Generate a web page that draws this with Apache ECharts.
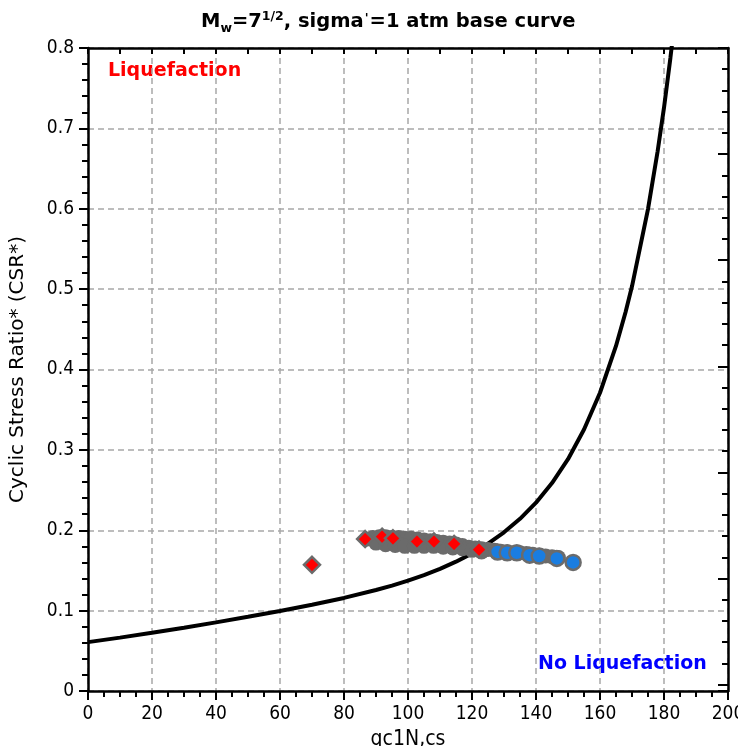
<!DOCTYPE html>
<html>
<head>
<meta charset="utf-8">
<script src="https://cdn.jsdelivr.net/npm/echarts@6/dist/echarts.min.js"></script>
<style>
html,body{margin:0;padding:0;background:#fff;overflow:hidden;width:100%;height:100%;}
#chart{position:fixed;left:0;top:0;width:738px;height:746px;}
</style>
</head>
<body>
<div id="chart"></div>
<script>
// Base curve (qc1N,cs vs CRR)
var curveX = [0, 10, 20, 30, 40, 50, 60, 70, 80, 90, 95, 100, 105, 110, 115, 120, 125, 130, 135, 140, 145, 150, 155, 160, 165, 168, 170, 175, 178, 180, 182, 183];
var curveY = [0.0608, 0.0664, 0.0724, 0.0788, 0.0854, 0.0923, 0.0995, 0.1073, 0.1158, 0.1256, 0.1311, 0.1373, 0.1442, 0.1520, 0.1609, 0.1712, 0.1833, 0.1974, 0.2142, 0.2343, 0.2587, 0.2884, 0.3253, 0.3711, 0.4293, 0.4715, 0.5035, 0.5996, 0.6712, 0.7258, 0.7877, 0.8214];

// Dense gray band of overlapping data points
var bandX = [87, 89, 91, 93, 95, 97, 99, 101, 103, 105, 107, 109, 111, 113, 115, 117, 119, 121, 123, 125, 127, 129, 131, 133, 135, 137, 139, 141, 143, 145, 147,
             90, 93, 96, 99, 102, 105, 108, 111, 114, 117, 120, 123];
var bandY = [0.189, 0.191, 0.192, 0.192, 0.191, 0.191, 0.190, 0.190, 0.189, 0.188, 0.187, 0.186, 0.185, 0.184, 0.183, 0.181, 0.179, 0.178, 0.177, 0.176, 0.175, 0.174, 0.173, 0.172, 0.172, 0.171, 0.170, 0.169, 0.168, 0.167, 0.166,
             0.184, 0.182, 0.181, 0.180, 0.180, 0.180, 0.180, 0.179, 0.178, 0.177, 0.175, 0.173];

// Liquefied points (red diamonds)
var liqX = [86.6, 91.9, 95.3, 102.8, 108.1, 114.4, 122.2, 70];
var liqY = [0.189, 0.192, 0.190, 0.186, 0.186, 0.183, 0.176, 0.157];

// Non-liquefied points (blue circles)
var nonX = [128, 131, 134, 138, 141, 146.5, 151.6];
var nonY = [0.173, 0.172, 0.172, 0.169, 0.168, 0.165, 0.160];

var xTicks = {min: 0, max: 200, interval: 20};
var yTicks = {min: 0, max: 0.8, interval: 0.1};

function pairs(xs, ys){ return xs.map(function(x,i){ return [x, ys[i]]; }); }

var tickFont = "'DejaVu Sans Condensed','Liberation Sans Narrow','DejaVu Sans',sans-serif";
var mainFont = "'DejaVu Sans',Verdana,sans-serif";
var gray = '#6b6b6b';

var chart = echarts.init(document.getElementById('chart'), null, {renderer:'canvas', width: 738, height: 746});
chart.setOption({
  backgroundColor: '#fff',
  animation: false,
  title: {
    left: 196, top: 3,
    text: '{m|M}{s|w}{m|=7}{p|1/2}{m|, sigma}{q|\'}{m|=1 atm base curve}',
    textStyle: {
      rich: {
        m: {fontFamily: mainFont, fontWeight: 'bold', fontSize: 19.5, color: '#000', lineHeight: 24, verticalAlign: 'bottom'},
        s: {fontFamily: mainFont, fontWeight: 'bold', fontSize: 12.5, color: '#000', lineHeight: 12, verticalAlign: 'bottom', padding: [0,0,-3,0]},
        p: {fontFamily: mainFont, fontWeight: 'bold', fontSize: 12.5, color: '#000', lineHeight: 14, verticalAlign: 'top', padding: [2,0,0,0]},
        q: {fontFamily: mainFont, fontWeight: 'bold', fontSize: 12.5, color: '#000', lineHeight: 14, verticalAlign: 'top', padding: [4,1,0,1]}
      }
    }
  },
  grid: {left: 88, right: 10, top: 48, bottom: 55, containLabel: false, outerBoundsMode: 'none'},
  xAxis: [{
    type: 'value', position: 'bottom', min: xTicks.min, max: xTicks.max, interval: xTicks.interval,
    axisLine: {show: true, onZero: false, lineStyle: {color: '#000', width: 2.5}},
    axisTick: {show: true, inside: false, length: 9, lineStyle: {color: '#000', width: 2}},
    minorTick: {show: true, splitNumber: 4, length: 6, lineStyle: {color: '#000', width: 2}},
    axisLabel: {margin: 14, fontSize: 19, color: '#000', fontFamily: tickFont},
    splitLine: {show: true, lineStyle: {color: '#a8a8a8', type: [6,4], width: 1.5}},
    name: 'qc1N,cs', nameLocation: 'middle', nameGap: 36,
    nameTextStyle: {fontSize: 21, color: '#000', fontFamily: tickFont}
  }, {
    type: 'value', position: 'top', min: 0, max: 200, interval: 10,
    axisLine: {show: true, onZero: false, lineStyle: {color: '#000', width: 2.5}},
    axisTick: {show: true, inside: true, length: 6, lineStyle: {color: '#000', width: 2}},
    axisLabel: {show: false}, splitLine: {show: false}
  }],
  yAxis: [{
    type: 'value', position: 'left', min: yTicks.min, max: yTicks.max, interval: yTicks.interval,
    axisLine: {show: true, onZero: false, lineStyle: {color: '#000', width: 2.5}},
    axisTick: {show: true, inside: false, length: 9, lineStyle: {color: '#000', width: 2}},
    minorTick: {show: true, splitNumber: 5, length: 6, lineStyle: {color: '#000', width: 2}},
    axisLabel: {margin: 14, fontSize: 19, color: '#000', fontFamily: tickFont},
    splitLine: {show: true, lineStyle: {color: '#a8a8a8', type: [6,4], width: 1.5}},
    name: 'Cyclic Stress Ratio* (CSR*)', nameLocation: 'middle', nameGap: 60, nameRotate: 90,
    nameTextStyle: {fontSize: 20, color: '#000', fontFamily: mainFont}
  }, {
    type: 'value', position: 'right', inverse: true, min: 0, max: 30.3, interval: 5,
    axisLine: {show: true, onZero: false, lineStyle: {color: '#000', width: 2.5}},
    axisTick: {show: true, inside: true, length: 10, lineStyle: {color: '#000', width: 2}},
    minorTick: {show: true, splitNumber: 5, length: 6, lineStyle: {color: '#000', width: 2}},
    axisLabel: {show: false}, splitLine: {show: false}
  }],
  graphic: [
    {type: 'text', left: 108, top: 62, style: {text: 'Liquefaction', fill: '#ff0000', font: "bold 19px 'DejaVu Sans', Verdana, sans-serif"}},
    {type: 'text', left: 538, top: 655, style: {text: 'No Liquefaction', fill: '#0000ff', font: "bold 19px 'DejaVu Sans', Verdana, sans-serif"}}
  ],
  series: [{
    type: 'line', xAxisIndex: 0, yAxisIndex: 0, data: pairs(curveX, curveY),
    showSymbol: false, symbol: 'none', clip: true, z: 2,
    lineStyle: {color: '#000', width: 4}
  }, {
    type: 'scatter', xAxisIndex: 0, yAxisIndex: 0, data: pairs(bandX, bandY),
    symbol: 'circle', symbolSize: 15, z: 3,
    itemStyle: {color: gray, opacity: 1}
  }, {
    type: 'scatter', xAxisIndex: 0, yAxisIndex: 0, data: pairs(liqX, liqY),
    symbol: 'diamond', symbolSize: [16, 16], z: 4,
    itemStyle: {color: '#ff0000', borderColor: gray, borderWidth: 2.5, opacity: 1}
  }, {
    type: 'scatter', xAxisIndex: 0, yAxisIndex: 0, data: pairs(nonX, nonY),
    symbol: 'circle', symbolSize: 15, z: 4,
    itemStyle: {color: '#1a7de0', borderColor: gray, borderWidth: 2.5, opacity: 1}
  }]
});
</script>
</body>
</html>
